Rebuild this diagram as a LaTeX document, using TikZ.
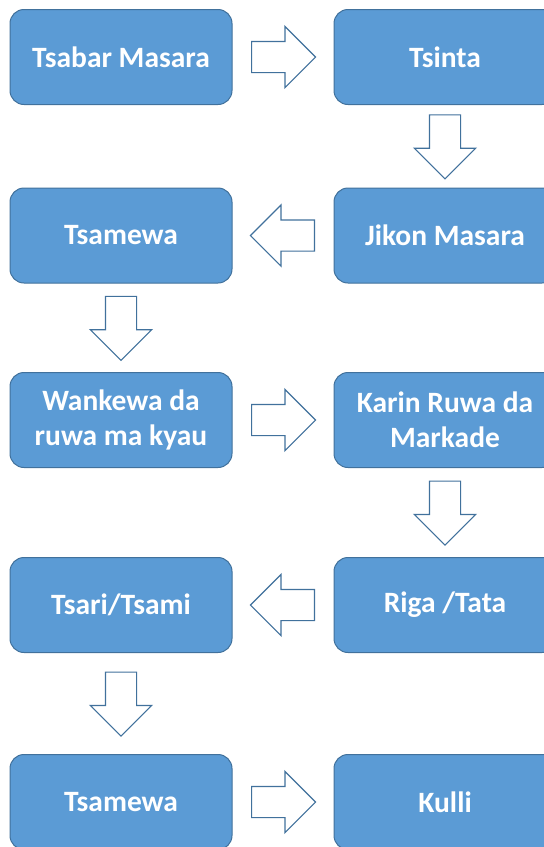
\documentclass[tikz,border=0pt]{standalone}
\usepackage{fontspec}
\setmainfont{Carlito}
\usepackage{tikz}
\usetikzlibrary{positioning,shapes.arrows,calc}
\definecolor{boxblue}{HTML}{5B9BD5}
\definecolor{edgeblue}{HTML}{41719C}

\begin{document}
\begin{tikzpicture}[x=1pt,y=1pt]
    \tikzstyle{stage}=[rectangle,rounded corners=14pt,draw=edgeblue,line width=1pt,fill=boxblue,text=white,font=\bfseries\fontsize{29.5}{35}\selectfont,align=center,minimum width=222pt,minimum height=95pt,inner sep=0pt]
    \tikzstyle{flow}=[single arrow,draw=edgeblue,fill=white,line width=1.2pt,minimum height=64pt,minimum width=60pt,single arrow head extend=15pt,inner sep=15pt,anchor=tail]

    \useasboundingbox (0,0) rectangle (544,-847);

    \node[stage] (s1) at (121,-57)    {Tsabar Masara};
    \node[stage] (s2) at (445,-57)    {Tsinta};
    \node[stage] (s3) at (445,-235.5) {Jikon Masara};
    \node[stage] (s4) at (121,-235.5) {Tsamewa};
    \node[stage] (s5) at (121,-420)   {Wankewa da\\ruwa ma kyau};
    \node[stage] (s6) at (445,-420)   {Karin Ruwa da\\Markade};
    \node[stage] (s7) at (445,-605)   {Riga /Tata};
    \node[stage] (s8) at (121,-605)   {Tsari/Tsami};
    \node[stage] (s9) at (121,-802)   {Tsamewa};
    \node[stage] (s10) at (445,-802)  {Kulli};

    \foreach \a/\b/\r in {1/2/0,2/3/270,3/4/180,4/5/270,5/6/0,6/7/270,7/8/180,8/9/270,9/10/0} {
        \node[flow,shape border rotate=\r] (f\a) at ($(s\a)!0.5!(s\b)!32pt!(s\a)$) {};
    }
\end{tikzpicture}
\end{document}
